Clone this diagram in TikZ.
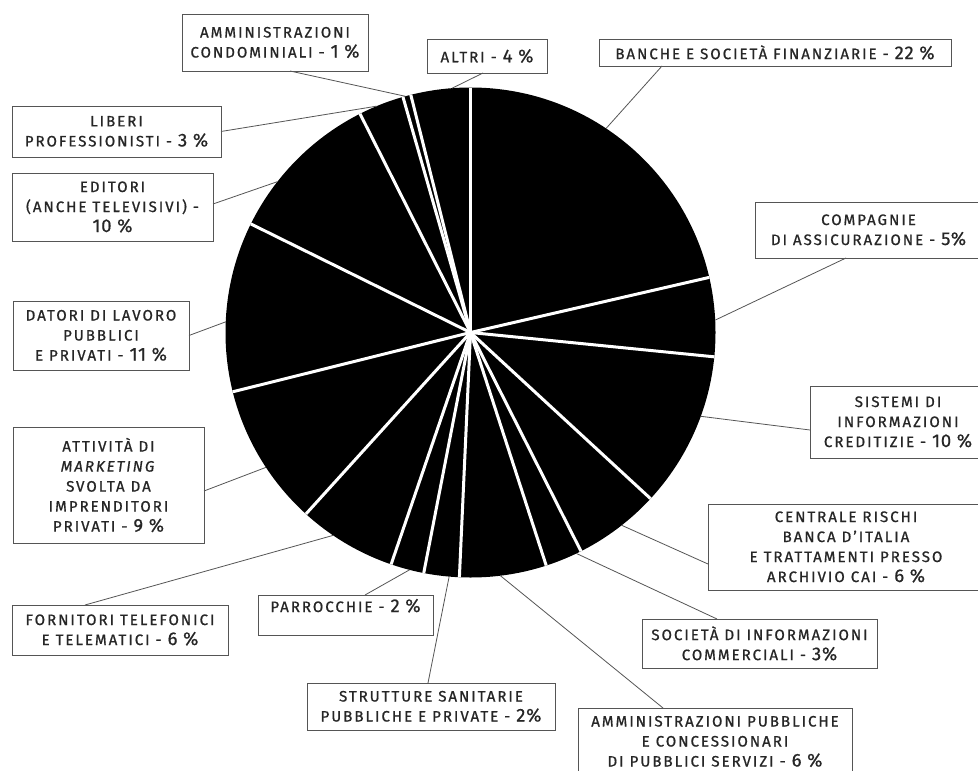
\documentclass[tikz,border=0pt]{standalone}
\usepackage{fontspec}
\setmainfont{Fira Sans}[LetterSpace=13,FakeBold=0.8]
\newfontfamily\numfont{Fira Sans}[LetterSpace=4,FakeBold=0.6]
\usetikzlibrary{calc}
\definecolor{txt}{HTML}{262626}
\definecolor{ln}{HTML}{555555}
\newcommand\nm[1]{{\numfont\fontsize{18.5}{18.5}\selectfont #1}}
\tikzset{
  lbl/.style={draw=ln, line width=0.9pt, text=txt, inner sep=0pt, outer sep=0pt,
    align=center, font=\fontsize{15.1}{20}\selectfont},
  leader/.style={draw=ln, line width=0.8pt},
  sep/.style={draw=white, line width=3pt}
}
\begin{document}
\begin{tikzpicture}[x=1pt,y=-1pt]
\useasboundingbox (0,0) rectangle (978,771);
\clip (0,0) rectangle (978,771);
\fill[white] (0,0) rectangle (978,771);
% pie
\node[circle, fill=black, minimum size=490pt, inner sep=0pt, outer sep=0pt] (pie) at (470.5,332.5) {};
\foreach \a in {90,104.1,106,116.8,153.7,194,227.8,251.1,259,267.4,288,296.8,317.3,354.3,373}
  \draw[sep] (pie.center) -- ($(pie.center)+(\a:245pt)$);
% leader end points on the rim
\foreach \n/\a in {amc/105.4,lib/112.5,edi/142,dat/177.5,mkt/213.4,for/235.9,par/255.6,str/265,
  amp/277,soc/295.6,cen/308.1,sis/340,com/2.9,ban/56.4,alt/94.3}
  \coordinate (e-\n) at ($(pie.center)+(\a:245pt)$);
% labels
\node[lbl, minimum width=186pt, minimum height=57pt] (amc) at (275,42.5) {AMMINISTRAZIONI\\CONDOMINIALI - \nm{1 \%}};
\node[lbl, minimum width=209pt, minimum height=51pt] (lib) at (116.5,131.5) {LIBERI\\PROFESSIONISTI - \nm{3 \%}};
\node[lbl, minimum width=201pt, minimum height=68pt] (edi) at (112.5,207) {EDITORI\\(ANCHE TELEVISIVI) -\\\nm{10 \%}};
\node[lbl, minimum width=176pt, minimum height=69pt] (dat) at (101,335.5) {DATORI DI LAVORO\\PUBBLICI\\E PRIVATI - \nm{11 \%}};
\node[lbl, minimum width=191pt, minimum height=116pt] (mkt) at (108.5,485) {ATTIVITÀ DI\\\textit{MARKETING}\\SVOLTA DA\\IMPRENDITORI\\PRIVATI - \nm{9 \%}};
\node[lbl, minimum width=216pt, minimum height=50pt] (for) at (120,630) {FORNITORI TELEFONICI\\E TELEMATICI - \nm{6 \%}};
\node[lbl, minimum width=175pt, minimum height=40pt, text height=10pt, text depth=16pt] (par) at (345.5,615) {PARROCCHIE - \nm{2 \%}};
\node[lbl, minimum width=248pt, minimum height=47pt] (str) at (431,706.5) {STRUTTURE SANITARIE\\PUBBLICHE E PRIVATE - \nm{2\%}};
\node[lbl, minimum width=274pt, minimum height=67pt] (amp) at (715,741.5) {AMMINISTRAZIONI PUBBLICHE\\E CONCESSIONARI\\DI PUBBLICI SERVIZI - \nm{6 \%}};
\node[lbl, minimum width=235pt, minimum height=49pt] (soc) at (759.5,643.5) {SOCIETÀ DI INFORMAZIONI\\COMMERCIALI - \nm{3\%}};
\node[lbl, minimum width=276pt, minimum height=86pt] (cen) at (846,547) {CENTRALE RISCHI\\BANCA D’ITALIA\\E TRATTAMENTI PRESSO\\ARCHIVIO CAI - \nm{6 \%}};
\node[lbl, minimum width=176pt, minimum height=72pt] (sis) at (898,422) {SISTEMI DI\\INFORMAZIONI\\CREDITIZIE - \nm{10 \%}};
\node[lbl, minimum width=227pt, minimum height=56pt] (com) at (868.5,230) {COMPAGNIE\\DI ASSICURAZIONE - \nm{5\%}};
\node[lbl, minimum width=352pt, minimum height=27pt] (ban) at (775,52.5) {BANCHE E SOCIETÀ FINANZIARIE - \nm{22 \%}};
\node[lbl, minimum width=120pt, minimum height=34pt] (alt) at (487,56) {ALTRI - \nm{4 \%}};
% leaders
\draw[leader] (amc.south) ++(15,0) -- (e-amc);
\draw[leader] (lib.east) -- (e-lib);
\draw[leader] (edi.east) ++(0,-3) -- (e-edi);
\draw[leader] (dat.east) -- (e-dat);
\draw[leader] (mkt.east) ++(0,6) -- (e-mkt);
\draw[leader] (for.north) ++(-35,0) -- (e-for);
\draw[leader] (par.north) ++(19.5,0) -- (e-par);
\draw[leader] (str.north) ++(-3,0) -- (e-str);
\draw[leader] (amp.north) ++(-52,0) -- (e-amp);
\draw[leader] (soc.north) ++(-42.5,0) -- (e-soc);
\draw[leader] (cen.west) ++(0,17) -- (e-cen);
\draw[leader] (sis.west) ++(0,8) -- (e-sis);
\draw[leader] (com.south) ++(-22.5,0) -- (e-com);
\draw[leader] (ban.south) ++(-113,0) -- (e-ban);
\draw[leader] (alt.south) ++(-4,0) -- (e-alt);
\end{tikzpicture}
\end{document}
